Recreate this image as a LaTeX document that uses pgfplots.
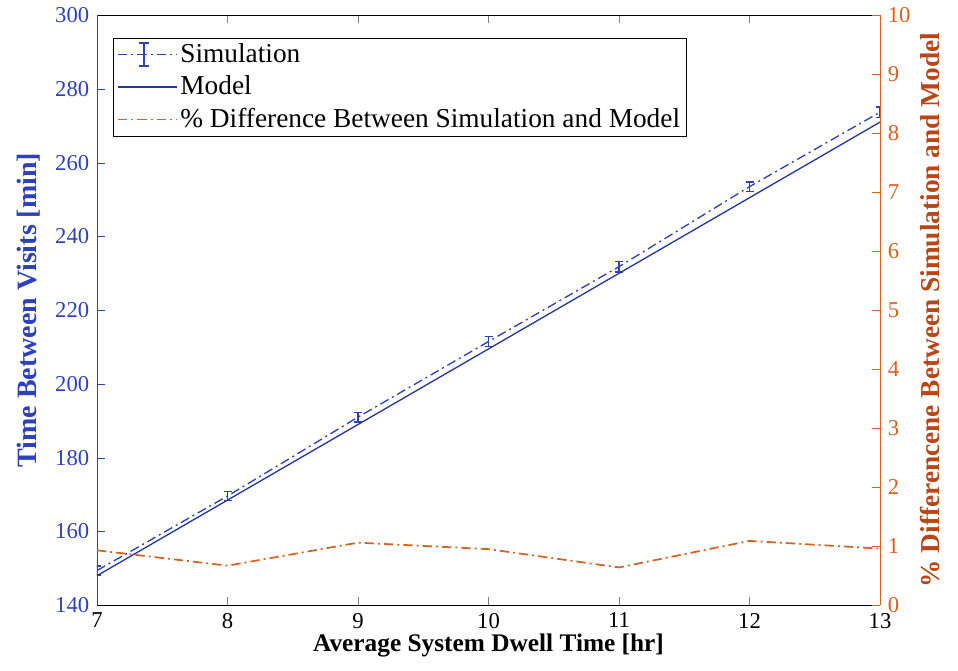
\documentclass[border=0pt]{standalone}
\usepackage{pgfplots}
\pgfplotsset{compat=1.18}
\usepackage{fontspec}
\setmainfont{Liberation Serif}

\definecolor{simblue}{RGB}{45,65,190}
\definecolor{diffor}{RGB}{220,95,30}
\definecolor{difflab}{RGB}{185,70,20}

\pgfplotstableread{
x   sim    err   model
7   149.4  1.2   148.0
8   169.6  1.2   168.5
9   191.0  1.3   189.0
10  211.5  1.4   209.5
11  231.8  1.4   230.0
12  253.5  1.3   250.5
13  273.7  1.4   271.0
}\simtable

\pgfplotstableread{
x   pct
7   0.93
8   0.67
9   1.06
10  0.95
11  0.64
12  1.09
13  0.96
}\difftable

\tikzset{
  dashdot/.style={dash pattern=on 7pt off 3pt on 1.5pt off 3pt},
}
\pgfplotsset{
  longline legend/.style={legend image code/.code={\draw[##1] (0cm,0cm) -- (1.55cm,0cm);}},
}

\begin{document}
\fontsize{17}{20}\selectfont
\begin{tikzpicture}
\pgfplotsset{
  common/.style={
    width=587.25pt, height=442.5pt, scale only axis,
    xmin=7, xmax=13,
    tick align=inside,
    major tick length=6pt,
    /pgf/number format/assume math mode=true,
    tick label style={font=\rmfamily\fontsize{17}{20}\selectfont},
    xticklabel={\rmfamily\pgfmathprintnumber{\tick}},
    yticklabel={\rmfamily\pgfmathprintnumber{\tick}},
  },
}
\begin{axis}[common, name=ax,
  ymin=140, ymax=300,
  xtick={7,...,13}, ytick={140,160,...,300},
  axis x line*=box, axis y line*=left,
  x axis line style={-, black},
  y axis line style={-, simblue},
  xtick pos=both, ytick pos=left,
  ytick style={simblue},
  yticklabel style={text=simblue},
  xlabel={Average System Dwell Time [hr]},
  ylabel={Time Between Visits [min]},
  ylabel style={text=simblue, font=\fontsize{21}{24}\selectfont\bfseries, yshift=0pt},
  xlabel style={font=\fontsize{19}{22}\selectfont\bfseries, yshift=7pt},
]
\addplot[simblue, line width=1pt, dashdot,
  error bars/.cd, y dir=both, y explicit,
  error bar style={solid, line width=1pt}, error mark options={rotate=90, mark size=3pt, line width=1pt}]
  table[x=x, y=sim, y error=err] {\simtable};
\addplot[simblue!85!black, line width=1pt, solid] table[x=x, y=model] {\simtable};
\end{axis}

\begin{axis}[common,
  ymin=0, ymax=10, ytick={0,...,10},
  axis x line=none, axis y line*=right,
  y axis line style={-, diffor},
  ytick pos=right,
  ytick style={diffor},
  yticklabel style={text=diffor},
  ylabel={\% Differencene Between Simulation and Model},
  ylabel style={text=difflab, font=\fontsize{20.5}{23}\selectfont\bfseries, yshift=4pt},
  legend style={at={(0.02,0.962)}, anchor=north west, draw, line width=0.8pt,
    font=\fontsize{20.5}{24}\selectfont, cells={anchor=west},
    inner xsep=3pt, inner ysep=2pt, row sep=3.5pt},
]
\addlegendimage{legend image code/.code={
  \draw[draw=simblue, line width=1.2pt, dashdot] (0cm,0cm) -- (1.55cm,0cm);
  \draw[draw=simblue, line width=1.2pt, solid] (0.68cm,-0.3cm) -- (0.68cm,0.3cm)
     (0.55cm,0.3cm) -- (0.81cm,0.3cm) (0.55cm,-0.3cm) -- (0.81cm,-0.3cm);}}
\addlegendentry{Simulation}
\addlegendimage{draw=simblue!85!black, line width=1.2pt, solid, longline legend}
\addlegendentry{Model}
\addplot[draw=diffor, line width=1.3pt, dashdot, longline legend]
  table[x=x, y=pct] {\difftable};
\addlegendentry{\% Difference Between Simulation and Model}
\end{axis}

\path[use as bounding box] ([xshift=-72.75pt, yshift=-48.75pt]ax.south west)
  rectangle ([xshift=58.5pt, yshift=11.25pt]ax.north east);
\end{tikzpicture}
\end{document}
